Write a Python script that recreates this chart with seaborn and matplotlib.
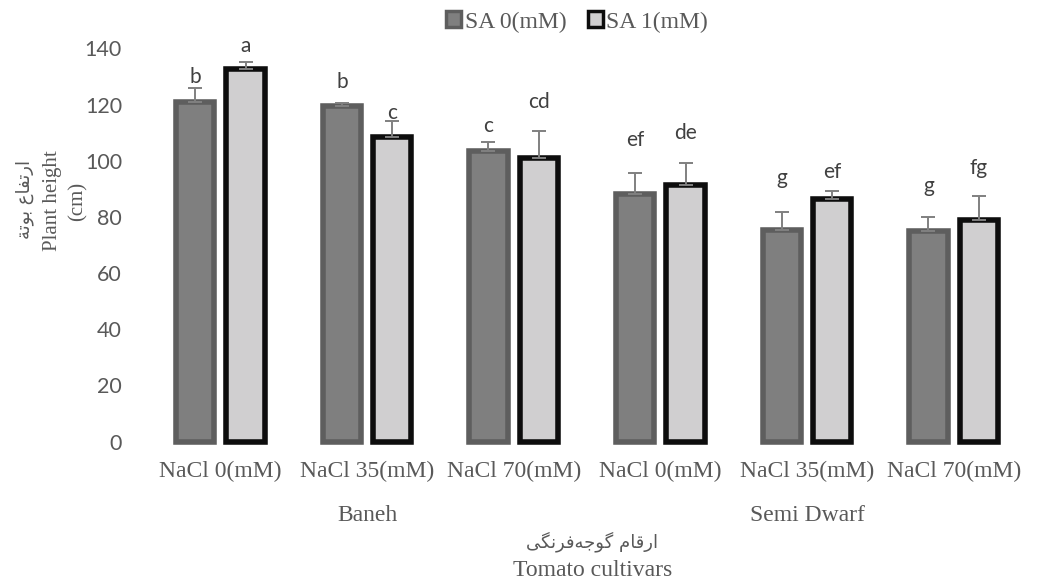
import matplotlib
matplotlib.use("Agg")
import matplotlib.pyplot as plt
import numpy as np
import pandas as pd
import seaborn as sns
from matplotlib.patches import Patch

# ---- data -------------------------------------------------------------
cultivars = ["Baneh", "Semi Dwarf"]
salt_levels = ["NaCl 0(mM)", "NaCl 35(mM)", "NaCl 70(mM)"]
sa_levels = ["SA 0(mM)", "SA 1(mM)"]

# plant height (cm), order: Baneh 0/35/70, Semi Dwarf 0/35/70
height_sa0 = [121.0, 119.5, 103.5, 88.0, 75.5, 75.0]
height_sa1 = [132.5, 108.5, 101.0, 91.5, 86.5, 79.0]
err_sa0 = [5.0, 1.0, 3.3, 7.7, 6.2, 5.0]
err_sa1 = [2.5, 5.5, 9.6, 7.7, 2.8, 8.5]
letters_sa0 = ["b", "b", "c", "ef", "g", "g"]
letters_sa1 = ["a", "c", "cd", "de", "ef", "fg"]

# Persian captions, written in presentation forms (visual order)
ylabel_fa = "\uFE94\uFE97\uFEEE\uFE91 \uFEC9\uFE8E\uFED4\uFE97\uFEAD\uFE8D"   # ارتفاع بوتة
xlabel_fa = ("\uFBFD\uFB95\uFEE7\uFEAE\uFED3\uFEEA\uFE9F\uFEEE\uFB94 "
             "\uFEE1\uFE8E\uFED7\uFEAD\uFE8D")                                 # ارقام گوجه‌فرنگی

# ---- long table for seaborn -------------------------------------------
conditions = [f"{cv}|{s}" for cv in cultivars for s in salt_levels]
df = pd.DataFrame({
    "condition": conditions * 2,
    "sa": [sa_levels[0]] * 6 + [sa_levels[1]] * 6,
    "height": height_sa0 + height_sa1,
})

# ---- style ------------------------------------------------------------
sns.set_style("white")
plt.rcParams["font.family"] = ["Liberation Serif", "DejaVu Sans"]

face = ["#7f7f7f", "#d0cfd0"]
edge = ["#5e5e5e", "#0d0d0d"]
txt_gray = "#595959"

fig = plt.figure(figsize=(10.37, 5.8), dpi=100)
ax = fig.add_axes([0.1418, 0.2385, 0.8486, 0.6782])

sns.barplot(data=df, x="condition", y="height", hue="sa",
            order=conditions, hue_order=sa_levels, palette=face,
            saturation=1, width=0.688, gap=0.238, errorbar=None,
            legend=False, ax=ax)

heights = [height_sa0, height_sa1]
errs = [err_sa0, err_sa1]
letters = [letters_sa0, letters_sa1]
# extra room between the error cap and the significance letter
lift = [[3.7, 7.5, 5.5, 11.5, 12.0, 11.0],
        [5.9, 3.1, 10.3, 10.8, 6.7, 10.0]]

bar_groups = list(ax.containers)
for k, cont in enumerate(bar_groups):
    bars = [b for b in cont if b is not None]
    for bar in bars:
        bar.set_edgecolor(edge[k])
        bar.set_linewidth(4)
        bar.set_clip_on(False)
    xs = [b.get_x() + b.get_width() / 2 for b in bars]
    ax.errorbar(xs, heights[k], yerr=[np.zeros(6), errs[k]], fmt="none",
                ecolor="#808080", elinewidth=1.4, capsize=5, capthick=1.4,
                zorder=5, clip_on=False)
    for x, h, e, lab, dy in zip(xs, heights[k], errs[k], letters[k], lift[k]):
        ax.text(x, h + e + dy, lab, ha="center", va="center",
                fontsize=15, family="Lato", color="#404040")

ax.set_xlim(-0.5, 5.5)
ax.set_ylim(0, 140)
ax.set_yticks(range(0, 141, 20))
ax.set_xticks(range(6))
ax.set_xticklabels(salt_levels * 2)
ax.set_xlabel("")
ax.set_ylabel("")
for lbl in ax.get_yticklabels():
    lbl.set_family("Lato")
ax.tick_params(axis="y", length=0, pad=18, labelsize=15.5, labelcolor=txt_gray)
ax.tick_params(axis="x", length=0, pad=14, labelsize=17, labelcolor=txt_gray)
sns.despine(ax=ax, left=True, bottom=True)

# cultivar group labels
xt = ax.get_xaxis_transform()
for i, cv in enumerate(cultivars):
    ax.text(3 * i + 1, -0.188, cv, transform=xt, ha="center", va="center",
            fontsize=17, color=txt_gray)

# axis titles
fig.text(0.571, 1 - 542 / 580, xlabel_fa, ha="center", va="center",
         fontsize=13, family="DejaVu Sans", color=txt_gray)
fig.text(0.571, 1 - 571 / 580, "Tomato cultivars", ha="center", va="center",
         fontsize=17, color=txt_gray)
fig.text(25 / 1037, 1 - 199 / 580, ylabel_fa, rotation=90, ha="center",
         va="center", fontsize=13, family="DejaVu Sans", color=txt_gray)
fig.text(52 / 1037, 1 - 201 / 580, "Plant height", rotation=90, ha="center",
         va="center", fontsize=15, color=txt_gray)
fig.text(78 / 1037, 1 - 201 / 580, "(cm)", rotation=90, ha="center",
         va="center", fontsize=15, color=txt_gray)

# legend
handles = [Patch(facecolor=face[i], edgecolor=edge[i], linewidth=2.5)
           for i in range(2)]
leg = fig.legend(handles, sa_levels, loc="center", ncol=2, frameon=False,
                 bbox_to_anchor=(577 / 1037, 1 - 22 / 580),
                 bbox_transform=fig.transFigure, fontsize=17,
                 handlelength=0.65, handleheight=0.65, handletextpad=0.15,
                 columnspacing=0.9, labelcolor=txt_gray)

fig.savefig("out.png", dpi=100)
